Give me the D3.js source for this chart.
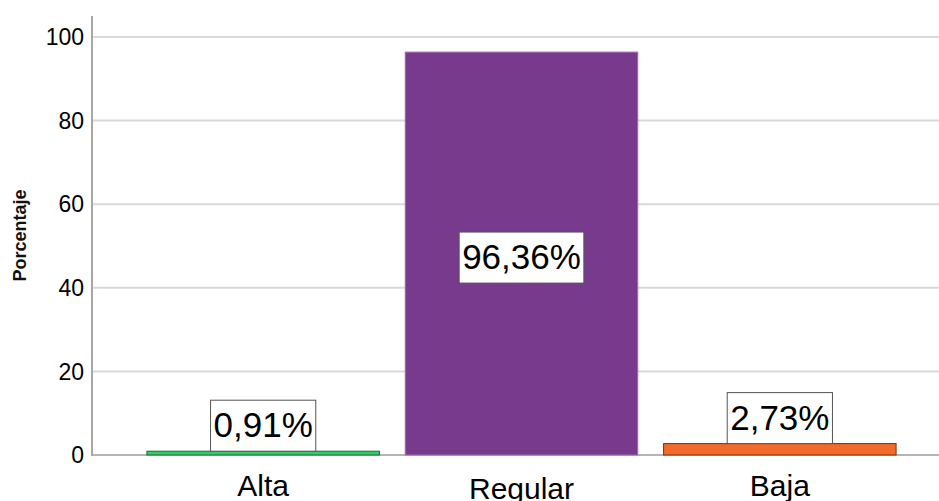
<!DOCTYPE html>
<html>
<head>
<meta charset="utf-8">
<script src="https://cdn.jsdelivr.net/npm/d3@7"></script>
<style>
  body { margin: 0; background: #fff; }
  text { font-family: Arial, "Liberation Sans", sans-serif; }
</style>
</head>
<body>
<div id="chart"></div>
<script>
let width = 939, height = 501

// data
let categories = ['Alta', 'Regular', 'Baja']
let values = [0.91, 96.36, 2.73]
let labels = ['0,91%', '96,36%', '2,73%']
let yTicks = [0, 20, 40, 60, 80, 100]

let fills = ['#33cc66', '#773a8d', '#f36b2b']
let strokes = ['#1f6b37', '#9a6aad', '#7a3010']

let svg = d3.select('#chart')
  .append('svg')
  .attr('width', width)
  .attr('height', height)

let axisX = 92

let y = d3.scaleLinear().domain([0, 105]).range([455, 16])
let x = d3.scaleBand()
  .domain(categories)
  .range([134, 909])
  .paddingInner(0.1)
  .paddingOuter(0.05)

// gridlines
svg.append('g')
  .selectAll('line')
  .data(yTicks)
  .enter().append('line')
    .attr('x1', axisX)
    .attr('x2', width)
    .attr('y1', d => y(d))
    .attr('y2', d => y(d))
    .style('stroke', d => d === 0 ? '#b4b4b4' : '#d9d9d9')
    .style('stroke-width', 2)

// y axis line
svg.append('line')
  .attr('x1', axisX).attr('x2', axisX)
  .attr('y1', y(105)).attr('y2', y(0) + 1)
  .style('stroke', '#a6a6a6')
  .style('stroke-width', 2)

// tick labels
svg.append('g')
  .selectAll('text')
  .data(yTicks)
  .enter().append('text')
    .attr('x', axisX - 8)
    .attr('y', d => y(d))
    .attr('dy', '0.36em')
    .style('text-anchor', 'end')
    .style('font-size', '23px')
    .style('fill', '#000')
    .text(d => d)

// y label
svg.append('text')
  .attr('transform', 'translate(26,' + ((y(0) + y(105)) / 2) + ') rotate(-90)')
  .style('text-anchor', 'middle')
  .style('font-size', '18px')
  .style('font-weight', 'bold')
  .style('fill', '#111')
  .text('Porcentaje')

// bars
svg.append('g')
  .selectAll('rect')
  .data(values)
  .enter().append('rect')
    .attr('x', (d, i) => x(categories[i]))
    .attr('y', d => y(d))
    .attr('width', x.bandwidth())
    .attr('height', d => y(0) - y(d))
    .style('fill', (d, i) => fills[i])
    .style('stroke', (d, i) => strokes[i])
    .style('stroke-width', 1)

// category labels
svg.append('g')
  .selectAll('text')
  .data(categories)
  .enter().append('text')
    .attr('x', d => x(d) + x.bandwidth() / 2)
    .attr('y', (d, i) => i === 1 ? 499 : 496)
    .style('text-anchor', 'middle')
    .style('font-size', '30px')
    .style('fill', '#000')
    .text(d => d)

// value labels with boxes
let boxH = 51
let valueGroups = svg.append('g')
  .selectAll('g')
  .data(values)
  .enter().append('g')
    .attr('transform', (d, i) => {
      let cx = x(categories[i]) + x.bandwidth() / 2
      let bottom = (y(0) - y(d)) > boxH + 10 ? (y(0) + y(d)) / 2 + boxH / 2 + 4 : y(d)
      return 'translate(' + cx + ',' + bottom + ')'
    })

valueGroups.append('text')
  .attr('x', 0)
  .attr('y', -14)
  .style('text-anchor', 'middle')
  .style('font-size', '35px')
  .style('fill', '#000')
  .text((d, i) => labels[i])

valueGroups.each(function () {
  let g = d3.select(this)
  let bb = g.select('text').node().getBBox()
  g.insert('rect', 'text')
    .attr('x', bb.x - 3)
    .attr('y', -boxH)
    .attr('width', bb.width + 6)
    .attr('height', boxH)
    .style('fill', '#fff')
    .style('stroke', '#555')
    .style('stroke-width', 1)
})
</script>
</body>
</html>
